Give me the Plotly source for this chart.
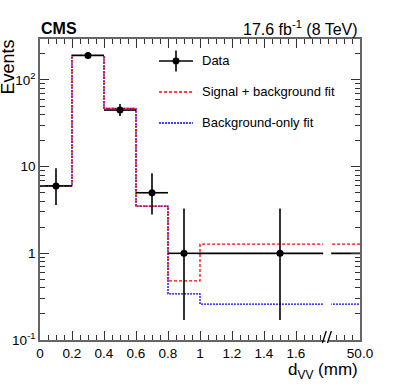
import plotly.graph_objects as go

# ---- data ----
bin_edges = [0.0, 0.2, 0.4, 0.6, 0.8, 1.0, 2.0]   # display coords; last bin is 1-50 mm
data_x = [0.1, 0.3, 0.5, 0.7, 0.9, 1.5]
data_xerr = [0.1, 0.1, 0.1, 0.1, 0.1, 0.5]
data_y = [6, 192, 45, 5, 1, 1]
data_err_up = [3.6, 14.4, 7.7, 3.4, 2.3, 2.3]
data_err_dn = [2.4, 13.8, 6.7, 2.2, 0.83, 0.83]
sb_fit = [6.0, 192, 47, 3.5, 0.48, 1.28]
bonly_fit = [6.0, 192, 47, 3.5, 0.34, 0.26]
x_tickvals = [0, 0.2, 0.4, 0.6, 0.8, 1.0, 1.2, 1.4, 1.6, 2.0]
x_ticktext = ["0", "0.2", "0.4", "0.6", "0.8", "1", "1.2", "1.4", "1.6", "50.0"]
y_tickvals = [0.1, 1, 10, 100]
y_ticktext = ["10<sup>-1</sup>", "1", "10", "10<sup>2</sup>"]
break_lo, break_hi = 1.77, 1.82

FONT = "Liberation Sans, Arial, Helvetica, sans-serif"
X_RANGE = [0, 2.0]
Y_RANGE = [-1, 2.473]


def step_xy(edges, vals):
    xs, ys = [], []
    for i, v in enumerate(vals):
        xs += [edges[i], edges[i + 1]]
        ys += [v, v]
    return xs, ys


fig = go.Figure()

xs, ys = step_xy(bin_edges, bonly_fit)
fig.add_trace(go.Scatter(x=xs, y=ys, mode="lines",
                         line=dict(color="#0000ff", width=1.3, dash="2px,1px"),
                         showlegend=False, hoverinfo="skip"))
xs, ys = step_xy(bin_edges, sb_fit)
fig.add_trace(go.Scatter(x=xs, y=ys, mode="lines",
                         line=dict(color="#ff0000", width=1.3, dash="3px,2px"),
                         showlegend=False, hoverinfo="skip"))

fig.add_trace(go.Scatter(
    x=data_x, y=data_y, mode="markers",
    marker=dict(color="black", size=7),
    error_x=dict(type="data", array=data_xerr, color="black", thickness=1.6, width=0),
    error_y=dict(type="data", symmetric=False, array=data_err_up,
                 arrayminus=data_err_dn, color="black", thickness=1.6, width=0),
    showlegend=False, hoverinfo="skip"))

# invisible trace on mirror axes so they get drawn
fig.add_trace(go.Scatter(x=[1.0], y=[1.0], xaxis="x2", yaxis="y2", mode="markers",
                         marker=dict(opacity=0), showlegend=False, hoverinfo="skip"))

shapes = []
shapes.append(dict(type="rect", xref="x", yref="y", x0=break_lo, x1=break_hi,
                   y0=0.2, y1=1.7, fillcolor="white", line=dict(width=0), layer="above"))
shapes.append(dict(type="rect", xref="x", yref="paper", x0=1.784, x1=1.806,
                   y0=-0.006, y1=0.04, fillcolor="white", line=dict(width=0), layer="above"))
for x0 in (1.765, 1.797):
    shapes.append(dict(type="line", xref="x", yref="paper", x0=x0, x1=x0 + 0.024,
                       y0=-0.01, y1=0.03, line=dict(color="black", width=1.3), layer="above"))

# legend (manual)
lx0, lx1 = 0.372, 0.478
ly = [0.927, 0.824, 0.721]
lxc = (lx0 + lx1) / 2
shapes.append(dict(type="line", xref="paper", yref="paper", x0=lx0, x1=lx1,
                   y0=ly[0], y1=ly[0], line=dict(color="black", width=1.6)))
shapes.append(dict(type="line", xref="paper", yref="paper", x0=lxc, x1=lxc,
                   y0=ly[0] - 0.035, y1=ly[0] + 0.035, line=dict(color="black", width=1.6)))
shapes.append(dict(type="circle", xref="paper", yref="paper",
                   x0=lxc - 0.011, x1=lxc + 0.011,
                   y0=ly[0] - 0.0116, y1=ly[0] + 0.0116, fillcolor="black", line=dict(width=0)))
shapes.append(dict(type="line", xref="paper", yref="paper", x0=lx0, x1=lx1,
                   y0=ly[1], y1=ly[1], line=dict(color="#ff0000", width=1.3, dash="3px,2px")))
shapes.append(dict(type="line", xref="paper", yref="paper", x0=lx0, x1=lx1,
                   y0=ly[2], y1=ly[2], line=dict(color="#0000ff", width=1.3, dash="2px,1px")))

annotations = []
for t, y in zip(["Data", "Signal + background fit", "Background-only fit"], ly):
    annotations.append(dict(text=t, xref="paper", yref="paper", x=0.5, y=y,
                            xanchor="left", yanchor="middle", showarrow=False,
                            font=dict(size=13, color="black", family=FONT)))
annotations.append(dict(text="<b>CMS</b>", xref="paper", yref="paper", x=-0.003, y=1.0,
                        xanchor="left", yanchor="bottom", showarrow=False,
                        font=dict(size=16, color="black", family=FONT)))
annotations.append(dict(text="17.6 fb<sup>-1</sup> (8 TeV)", xref="paper", yref="paper", x=1.0, y=0.997,
                        xanchor="right", yanchor="bottom", showarrow=False,
                        font=dict(size=16, color="black", family=FONT)))
annotations.append(dict(text="Events", xref="paper", yref="paper", x=-0.1, y=1.003,
                        xanchor="center", yanchor="top", textangle=-90, showarrow=False,
                        font=dict(size=18, color="black", family=FONT)))
annotations.append(dict(text="d<sub>VV</sub> (mm)", xref="paper", yref="paper", x=1.0, y=-0.06,
                        xanchor="right", yanchor="top", showarrow=False,
                        font=dict(size=17, color="black", family=FONT)))

minor_y = [k * 10 ** e for e in (-1, 0, 1) for k in range(2, 10)] + [200, 300]

common_x = dict(range=X_RANGE, tickmode="array", tickvals=x_tickvals,
                ticks="inside", ticklen=9, tickwidth=1, tickcolor="#333",
                showgrid=False, zeroline=False, automargin=False,
                minor=dict(tickmode="linear", tick0=0, dtick=0.05, ticks="inside",
                           ticklen=5, tickcolor="#333", showgrid=False))
common_y = dict(type="log", range=Y_RANGE, tickmode="array", tickvals=y_tickvals,
                ticks="inside", ticklen=9, tickwidth=1, tickcolor="#333",
                showgrid=False, zeroline=False, automargin=False,
                minor=dict(tickmode="array", tickvals=minor_y, ticks="inside",
                           ticklen=5, tickcolor="#333", showgrid=False))

fig.update_layout(
    width=399, height=387,
    margin=dict(l=40, r=39, t=39, b=47),
    paper_bgcolor="white", plot_bgcolor="white",
    shapes=shapes, annotations=annotations,
    font=dict(family=FONT, color="black"),
    xaxis=dict(**common_x, ticktext=x_ticktext, showline=True, linecolor="#666",
               linewidth=1.5, tickfont=dict(size=13.5, family=FONT, color="black")),
    yaxis=dict(**common_y, ticktext=y_ticktext, showline=True, linecolor="#666",
               linewidth=1.5, tickfont=dict(size=13.5, family=FONT, color="black")),
    xaxis2=dict(**common_x, overlaying="x", side="top", showticklabels=False,
                showline=True, linecolor="#666", linewidth=1.5),
    yaxis2=dict(**common_y, overlaying="y", side="right", showticklabels=False,
                showline=True, linecolor="#666", linewidth=1.5),
)

fig.write_html("out.html", config={"displayModeBar": False},
               post_script="document.body.style.margin='0';document.body.style.padding='0';")
